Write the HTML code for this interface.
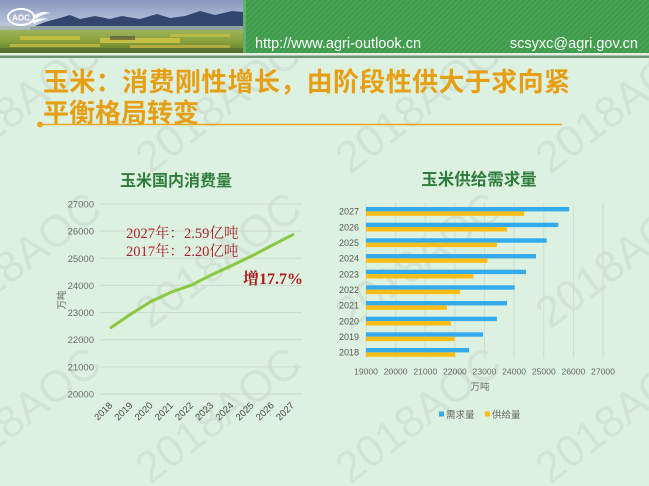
<!DOCTYPE html>
<html><head><meta charset="utf-8"><style>
html,body{margin:0;padding:0;background:#ddf1e1;}
svg{display:block;}
</style></head><body>
<svg width="649" height="486" viewBox="0 0 649 486" xmlns="http://www.w3.org/2000/svg">
<defs>
<linearGradient id="sky" x1="0" y1="0" x2="0" y2="1">
<stop offset="0" stop-color="#8797c0"/><stop offset="0.45" stop-color="#b9c2da"/><stop offset="1" stop-color="#c4cdd8"/>
</linearGradient>
<linearGradient id="field" x1="0" y1="0" x2="0" y2="1">
<stop offset="0" stop-color="#9db35a"/><stop offset="0.5" stop-color="#87a13a"/><stop offset="1" stop-color="#5d7a2c"/>
</linearGradient>
<pattern id="diag" width="4" height="4" patternUnits="userSpaceOnUse" patternTransform="rotate(45)">
<rect width="4" height="4" fill="#3f9a4c"/><rect width="1.5" height="4" fill="#4aa557"/>
</pattern>
<clipPath id="below"><rect x="0" y="58" width="649" height="428"/></clipPath>
</defs>

<rect x="0" y="0" width="649" height="486" fill="#ddf1e1"/>

<!-- header photo -->
<rect x="0" y="0" width="243" height="53" fill="url(#sky)"/>
<polygon points="30,28 45,22 60,18 70,15 80,19 95,16 110,19 122,16 140,19 157,14 170,18 185,16 200,11 215,15 232,11 243,12 243,30 30,30" fill="#33466f"/>
<rect x="0" y="26" width="243" height="6" fill="#a7b7ad" opacity="0.8"/>
<rect x="0" y="30" width="243" height="23" fill="url(#field)"/>
<rect x="20" y="36" width="60" height="4" fill="#c9c23e" opacity="0.8"/>
<rect x="100" y="38" width="80" height="5" fill="#cdc444" opacity="0.85"/>
<rect x="170" y="34" width="60" height="3" fill="#c2bf42" opacity="0.8"/>
<rect x="10" y="44" width="90" height="3" fill="#d1c24a" opacity="0.7"/>
<rect x="130" y="45" width="100" height="3" fill="#c9b846" opacity="0.7"/>
<rect x="0" y="48" width="243" height="5" fill="#4e6b2c" opacity="0.7"/>
<rect x="110" y="36" width="25" height="4" fill="#4d4a3a" opacity="0.6"/>
<!-- logo -->
<ellipse cx="21" cy="17" rx="13" ry="8" fill="none" stroke="#fff" stroke-width="2"/>
<text x="21" y="20.5" font-family="Liberation Sans, sans-serif" font-size="8" font-weight="bold" fill="#fff" text-anchor="middle">AOC</text>
<path d="M33 16 Q42 10 50 13 Q42 14 36 19 Z" fill="#fff"/>
<path d="M32 21 Q40 17 48 19 Q40 20 34 24 Z" fill="#fff"/>

<!-- header green -->
<rect x="243" y="0" width="406" height="53" fill="url(#diag)"/>
<rect x="243" y="0" width="3" height="53" fill="#62b06c"/>
<rect x="0" y="53" width="649" height="2.5" fill="#e6f1e6"/>
<rect x="0" y="55.5" width="649" height="2.5" fill="#6f9373"/>
<text x="255" y="48" font-family="Liberation Sans, sans-serif" font-size="14.5" fill="#ffffff">http://www.agri-outlook.cn</text>
<text x="638" y="48" font-family="Liberation Sans, sans-serif" font-size="14.5" fill="#ffffff" text-anchor="end">scsyxc@agri.gov.cn</text>

<!-- watermarks -->
<g clip-path="url(#below)" font-family="Liberation Sans, sans-serif" font-size="44" fill="#6e6e6e" fill-opacity="0.1">
<text transform="translate(-50,175) rotate(-37)">2018AOC</text>
<text transform="translate(150,175) rotate(-37)">2018AOC</text>
<text transform="translate(350,175) rotate(-37)">2018AOC</text>
<text transform="translate(550,175) rotate(-37)">2018AOC</text>
<text transform="translate(-50,330) rotate(-37)">2018AOC</text>
<text transform="translate(150,330) rotate(-37)">2018AOC</text>
<text transform="translate(350,330) rotate(-37)">2018AOC</text>
<text transform="translate(550,330) rotate(-37)">2018AOC</text>
<text transform="translate(-50,485) rotate(-37)">2018AOC</text>
<text transform="translate(150,485) rotate(-37)">2018AOC</text>
<text transform="translate(350,485) rotate(-37)">2018AOC</text>
<text transform="translate(550,485) rotate(-37)">2018AOC</text>
</g>

<!-- title -->
<g font-family="Liberation Sans, 'Noto Sans CJK SC', sans-serif" font-size="26" font-weight="bold" fill="#e69f12">
<text x="43" y="91" textLength="527" lengthAdjust="spacing">玉米：消费刚性增长，由阶段性供大于求向紧</text>
<text x="43" y="122">平衡格局转变</text>
</g>
<line x1="40" y1="124.5" x2="562" y2="124.5" stroke="#e8a623" stroke-width="1.5"/>
<circle cx="40" cy="124.5" r="3" fill="#e8a623"/>

<!-- LEFT CHART -->
<text x="176" y="186" font-family="Liberation Sans, 'Noto Sans CJK SC', sans-serif" font-size="16" font-weight="bold" fill="#2f7c3b" text-anchor="middle">玉米国内消费量</text>
<g stroke="#cdd8d0" stroke-width="1">
<line x1="100" y1="204" x2="302" y2="204"/>
<line x1="100" y1="231.1" x2="302" y2="231.1"/>
<line x1="100" y1="258.3" x2="302" y2="258.3"/>
<line x1="100" y1="285.4" x2="302" y2="285.4"/>
<line x1="100" y1="312.6" x2="302" y2="312.6"/>
<line x1="100" y1="339.7" x2="302" y2="339.7"/>
<line x1="100" y1="366.9" x2="302" y2="366.9"/>
<line x1="100" y1="394" x2="302" y2="394"/>
</g>
<g font-family="Liberation Sans, sans-serif" font-size="9.5" fill="#6a6a6a" text-anchor="end">
<text x="94" y="207.5">27000</text>
<text x="94" y="234.6">26000</text>
<text x="94" y="261.8">25000</text>
<text x="94" y="288.9">24000</text>
<text x="94" y="316.1">23000</text>
<text x="94" y="343.2">22000</text>
<text x="94" y="370.4">21000</text>
<text x="94" y="397.5">20000</text>
</g>
<text transform="translate(65,300) rotate(-90)" font-family="Liberation Sans, 'Noto Sans CJK SC', sans-serif" font-size="9.5" fill="#666" text-anchor="middle">万吨</text>
<polyline points="111,327.5 131.2,313.9 151.4,301.2 171.6,292 191.8,284.9 212,274.6 232.2,265.4 252.4,255.6 272.6,245 292.8,234.7" fill="none" stroke="#8dc641" stroke-width="3" stroke-linejoin="round" stroke-linecap="round"/>
<g font-family="Liberation Sans, sans-serif" font-size="9.5" fill="#474747" text-anchor="end">
<text transform="translate(113,406) rotate(-45)">2018</text>
<text transform="translate(133.2,406) rotate(-45)">2019</text>
<text transform="translate(153.4,406) rotate(-45)">2020</text>
<text transform="translate(173.6,406) rotate(-45)">2021</text>
<text transform="translate(193.8,406) rotate(-45)">2022</text>
<text transform="translate(214,406) rotate(-45)">2023</text>
<text transform="translate(234.2,406) rotate(-45)">2024</text>
<text transform="translate(254.4,406) rotate(-45)">2025</text>
<text transform="translate(274.6,406) rotate(-45)">2026</text>
<text transform="translate(294.8,406) rotate(-45)">2027</text>
</g>
<g font-family="Liberation Serif, 'Noto Serif CJK SC', serif" fill="#a8242a">
<text x="126" y="238" font-size="14.5">2027年：2.59亿吨</text>
<text x="126" y="256" font-size="14.5">2017年：2.20亿吨</text>
<text x="243" y="284" font-size="16" font-weight="bold" fill="#a81c1c">增17.7%</text>
</g>

<!-- RIGHT CHART -->
<text x="479" y="185" font-family="Liberation Sans, 'Noto Sans CJK SC', sans-serif" font-size="16.5" font-weight="bold" fill="#2f7c3b" text-anchor="middle">玉米供给需求量</text>
<g stroke="#d2dbd4" stroke-width="1">
<line x1="366" y1="203" x2="366" y2="358"/>
<line x1="395.6" y1="203" x2="395.6" y2="358"/>
<line x1="425.3" y1="203" x2="425.3" y2="358"/>
<line x1="454.9" y1="203" x2="454.9" y2="358"/>
<line x1="484.5" y1="203" x2="484.5" y2="358"/>
<line x1="514.1" y1="203" x2="514.1" y2="358"/>
<line x1="543.8" y1="203" x2="543.8" y2="358"/>
<line x1="573.4" y1="203" x2="573.4" y2="358"/>
<line x1="603" y1="203" x2="603" y2="358"/>
</g>
<g fill="#33aaec">
<rect x="366" y="207" width="203.2" height="4.4"/>
<rect x="366" y="222.7" width="192.3" height="4.4"/>
<rect x="366" y="238.3" width="180.7" height="4.4"/>
<rect x="366" y="254" width="170" height="4.4"/>
<rect x="366" y="269.7" width="160" height="4.4"/>
<rect x="366" y="285.3" width="148.7" height="4.4"/>
<rect x="366" y="301" width="141" height="4.4"/>
<rect x="366" y="316.7" width="130.9" height="4.4"/>
<rect x="366" y="332.3" width="117" height="4.4"/>
<rect x="366" y="348" width="103.1" height="4.4"/>
</g>
<g fill="#fbbd13">
<rect x="366" y="211.4" width="158.2" height="4.4"/>
<rect x="366" y="227.1" width="141" height="4.4"/>
<rect x="366" y="242.7" width="130.9" height="4.4"/>
<rect x="366" y="258.4" width="121.5" height="4.4"/>
<rect x="366" y="274.1" width="107.5" height="4.4"/>
<rect x="366" y="289.7" width="94.2" height="4.4"/>
<rect x="366" y="305.4" width="80.9" height="4.4"/>
<rect x="366" y="321.1" width="85" height="4.4"/>
<rect x="366" y="336.7" width="88.6" height="4.4"/>
<rect x="366" y="352.4" width="89.2" height="4.4"/>
</g>
<g font-family="Liberation Sans, sans-serif" font-size="9" fill="#555" text-anchor="end">
<text x="359" y="214.6">2027</text>
<text x="359" y="230.3">2026</text>
<text x="359" y="245.9">2025</text>
<text x="359" y="261.6">2024</text>
<text x="359" y="277.3">2023</text>
<text x="359" y="292.9">2022</text>
<text x="359" y="308.6">2021</text>
<text x="359" y="324.3">2020</text>
<text x="359" y="339.9">2019</text>
<text x="359" y="355.6">2018</text>
</g>
<g font-family="Liberation Sans, sans-serif" font-size="8.6" fill="#666" text-anchor="middle">
<text x="366" y="374.5">19000</text>
<text x="395.6" y="374.5">20000</text>
<text x="425.3" y="374.5">21000</text>
<text x="454.9" y="374.5">22000</text>
<text x="484.5" y="374.5">23000</text>
<text x="514.1" y="374.5">24000</text>
<text x="543.8" y="374.5">25000</text>
<text x="573.4" y="374.5">26000</text>
<text x="603" y="374.5">27000</text>
</g>
<text x="480" y="390" font-family="Liberation Sans, 'Noto Sans CJK SC', sans-serif" font-size="9.5" fill="#666" text-anchor="middle">万吨</text>
<rect x="439" y="411.5" width="5" height="5" fill="#33aaec"/>
<text x="446" y="418" font-family="Liberation Sans, 'Noto Sans CJK SC', sans-serif" font-size="9.5" fill="#666">需求量</text>
<rect x="485" y="411.5" width="5" height="5" fill="#fbbd13"/>
<text x="492" y="418" font-family="Liberation Sans, 'Noto Sans CJK SC', sans-serif" font-size="9.5" fill="#666">供给量</text>
</svg>
</body></html>
